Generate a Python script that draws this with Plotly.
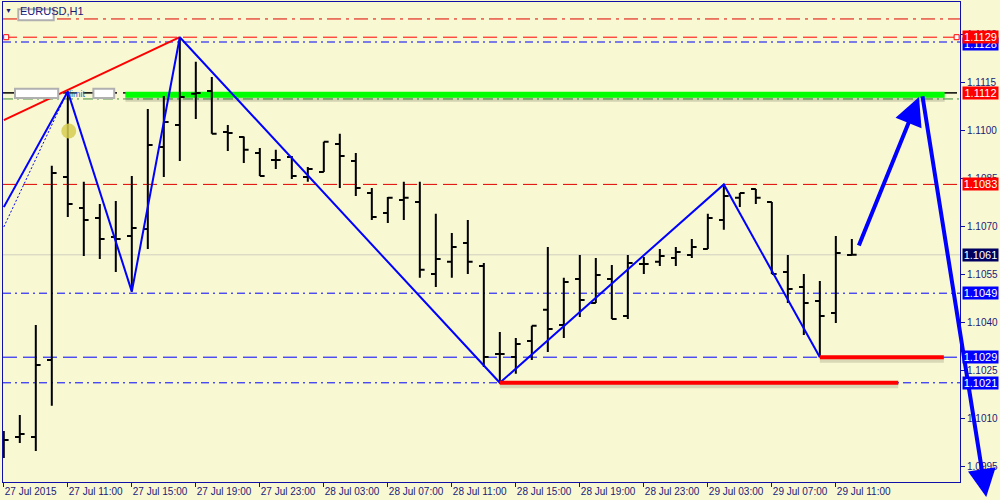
import plotly.graph_objects as go

# EURUSD H1, hourly bars from 27 Jul 2015 07:00
BAR_INDEX = list(range(54))
OPEN = [1.10040, 1.10041, 1.10041, 1.10281, 1.10853, 1.10756, 1.10725, 1.10666, 1.10669, 1.10691,
        1.10947, 1.11016, 1.11113, 1.11122, 1.10994, 1.10978, 1.10928, 1.10906, 1.10916, 1.10853,
        1.10869, 1.10956, 1.10903, 1.10803, 1.10741, 1.10781, 1.10775, 1.10550, 1.10588, 1.10647,
        1.10575, 1.10300, 1.10291, 1.10341, 1.10438, 1.10391, 1.10534, 1.10459, 1.10534, 1.10419,
        1.10581, 1.10588, 1.10600, 1.10609, 1.10628, 1.10719, 1.10788, 1.10816, 1.10775, 1.10556,
        1.10509, 1.10466, 1.10428, 1.10609]
HIGH = [1.10059, 1.10109, 1.10391, 1.10888, 1.11120, 1.10838, 1.10769, 1.10778, 1.10856, 1.11066,
        1.11106, 1.11290, 1.11213, 1.11166, 1.11016, 1.10980, 1.10944, 1.10938, 1.10919, 1.10884,
        1.10963, 1.10988, 1.10928, 1.10819, 1.10791, 1.10838, 1.10838, 1.10738, 1.10678, 1.10719,
        1.10584, 1.10369, 1.10350, 1.10388, 1.10634, 1.10538, 1.10609, 1.10600, 1.10578, 1.10609,
        1.10603, 1.10628, 1.10634, 1.10659, 1.10738, 1.10830, 1.10803, 1.10816, 1.10775, 1.10609,
        1.10550, 1.10528, 1.10669, 1.10659]
LOW = [1.09975, 1.10022, 1.09997, 1.10138, 1.10728, 1.10606, 1.10597, 1.10556, 1.10495, 1.10628,
       1.10853, 1.10903, 1.11034, 1.10988, 1.10934, 1.10897, 1.10856, 1.10878, 1.10847, 1.10838,
       1.10869, 1.10819, 1.10794, 1.10719, 1.10709, 1.10719, 1.10538, 1.10509, 1.10538, 1.10550,
       1.10259, 1.10210, 1.10238, 1.10281, 1.10306, 1.10350, 1.10416, 1.10459, 1.10409, 1.10409,
       1.10550, 1.10575, 1.10575, 1.10600, 1.10628, 1.10688, 1.10759, 1.10769, 1.10550, 1.10459,
       1.10359, 1.10290, 1.10397, 1.10609]
CLOSE = [1.10031, 1.10050, 1.10266, 1.10866, 1.10769, 1.10719, 1.10659, 1.10659, 1.10694, 1.10953,
         1.11025, 1.11103, 1.11116, 1.10988, 1.10991, 1.10938, 1.10856, 1.10906, 1.10856, 1.10878,
         1.10963, 1.10919, 1.10819, 1.10728, 1.10788, 1.10788, 1.10563, 1.10597, 1.10634, 1.10588,
         1.10291, 1.10300, 1.10331, 1.10388, 1.10378, 1.10525, 1.10469, 1.10547, 1.10409, 1.10584,
         1.10581, 1.10606, 1.10619, 1.10634, 1.10725, 1.10794, 1.10803, 1.10788, 1.10550, 1.10503,
         1.10459, 1.10419, 1.10616, 1.10610]

TICK_BARS = [0, 4, 8, 12, 16, 20, 24, 28, 32, 36, 40, 44, 48, 52]
TICK_TEXT = ["27 Jul 2015", "27 Jul 11:00", "27 Jul 15:00", "27 Jul 19:00", "27 Jul 23:00",
             "28 Jul 03:00", "28 Jul 07:00", "28 Jul 11:00", "28 Jul 15:00", "28 Jul 19:00",
             "28 Jul 23:00", "29 Jul 03:00", "29 Jul 07:00", "29 Jul 11:00"]
PRICE_TICKS = [1.0995, 1.1010, 1.1025, 1.1040, 1.1055, 1.1070, 1.1085, 1.1100, 1.1115, 1.1130]

# drawn objects
ZIGZAG_X = [0, 4, 8, 11, 31, 45, 51]
ZIGZAG_Y = [1.10759, 1.11120, 1.10495, 1.11290, 1.10210, 1.10830, 1.10290]
DOTTED_X = [0, 3.7]
DOTTED_Y = [1.10697, 1.11090]
TREND_X = [0, 11]
TREND_Y = [1.11031, 1.11290]
SUPPORT_X = [[31, 55.9], [51, 58.75]]
SUPPORT_Y = [1.10210, 1.10290]
ARROW_TAIL = [(53.4, 1.10634), (57.4, 1.11110)]
ARROW_HEAD = [(57.2, 1.11103), (61.4, 1.09853)]

LEVELS = [1.11347, 1.11290, 1.11275, 1.11116, 1.11097, 1.10830, 1.10610, 1.10490, 1.10290, 1.10210]
PRICE_LABELS = [("1.1128", 1.11270), ("1.1129", 1.11290), ("1.1112", 1.11116), ("1.1083", 1.10830),
                ("1.1061", 1.10610), ("1.1049", 1.10490), ("1.1029", 1.10290), ("1.1021", 1.10210)]

NAVY = "#1a1a78"
AXIS = "#1010a8"
FONT = "Liberation Sans"

level_style = {
    1.11347: ("#e00000", "14px,5px,3px,5px"),
    1.11290: ("#ff0000", "14px,6px"),
    1.11275: ("#0000ff", "8px,4px,2px,4px"),
    1.11116: ("#000000", "14px,6px"),
    1.11097: ("#3c8c3c", "10px,4px,2px,4px"),
    1.10830: ("#e00000", "14px,6px"),
    1.10610: ("#d0d0c0", "solid"),
    1.10490: ("#0000ff", "8px,4px,2px,4px"),
    1.10290: ("#0000ff", "14px,6px"),
    1.10210: ("#0000ff", "8px,4px,2px,4px"),
}
label_bg = {"1.1128": "#0000ff", "1.1129": "#ff0000", "1.1112": "#ff0000", "1.1083": "#ff0000",
            "1.1061": "#000060", "1.1049": "#0000ff", "1.1029": "#0000ff", "1.1021": "#0000ff"}

fig = go.Figure()

for lv in LEVELS:
    color, dash = level_style[lv]
    fig.add_shape(type="line", xref="paper", x0=0, x1=1, yref="y", y0=lv, y1=lv,
                  line=dict(color=color, width=1, dash=dash), layer="below")

# green band of the sell limit
fig.add_shape(type="line", xref="x", x0=7.6, x1=58.8, yref="y", y0=1.11102, y1=1.11102,
              line=dict(color="rgba(0,0,0,0.15)", width=9), layer="below")
fig.add_shape(type="line", xref="x", x0=7.6, x1=58.8, yref="y", y0=1.11110, y1=1.11110,
              line=dict(color="#00ff00", width=6), layer="below")
fig.add_shape(type="line", xref="paper", x0=0, x1=1, yref="y", y0=1.11116, y1=1.11116,
              line=dict(color="#000000", width=1, dash="14px,6px"), layer="below")

fig.add_trace(go.Ohlc(
    x=BAR_INDEX, open=OPEN, high=HIGH, low=LOW, close=CLOSE,
    increasing=dict(line=dict(color="black", width=2)),
    decreasing=dict(line=dict(color="black", width=2)),
    tickwidth=0.3, showlegend=False, hoverinfo="skip",
))

fig.add_trace(go.Scatter(x=DOTTED_X, y=DOTTED_Y, mode="lines",
                         line=dict(color="#0000ff", width=1, dash="2px,2px"), showlegend=False))
fig.add_trace(go.Scatter(x=TREND_X, y=TREND_Y, mode="lines",
                         line=dict(color="#ff0000", width=2), showlegend=False))
fig.add_trace(go.Scatter(x=ZIGZAG_X, y=ZIGZAG_Y, mode="lines",
                         line=dict(color="#0000ff", width=2), showlegend=False))
for xs, yv in zip(SUPPORT_X, SUPPORT_Y):
    fig.add_trace(go.Scatter(x=xs, y=[yv - 0.00008, yv - 0.00008], mode="lines",
                             line=dict(color="rgba(0,0,0,0.13)", width=6), showlegend=False))
    fig.add_trace(go.Scatter(x=xs, y=[yv, yv], mode="lines",
                             line=dict(color="#ff0000", width=4), showlegend=False))

fig.add_trace(go.Scatter(x=[0.15, 59.55], y=[1.11290, 1.11290], mode="markers",
                         marker=dict(symbol="square", size=5, color="white",
                                     line=dict(color="#ff0000", width=1)),
                         showlegend=False, cliponaxis=False))
fig.add_trace(go.Scatter(x=[4.06], y=[1.10997], mode="markers",
                         marker=dict(size=15, color="rgba(214,204,80,0.85)"), showlegend=False))

annotations = []
for (tx, ty), (hx, hy) in zip(ARROW_TAIL, ARROW_HEAD):
    annotations.append(dict(x=hx, y=hy, ax=tx, ay=ty, xref="x", yref="y", axref="x", ayref="y",
                            showarrow=True, arrowhead=2, arrowsize=1.4, arrowwidth=4,
                            arrowcolor="#0000ff", text=""))

for txt, yv in PRICE_LABELS:
    annotations.append(dict(x=1.002, y=yv, xref="paper", yref="y", xanchor="left", yanchor="middle",
                            text=txt, showarrow=False, bgcolor=label_bg[txt], width=35, align="center",
                            borderpad=0, font=dict(family=FONT, size=11, color="white")))

annotations.append(dict(x=0.016, y=0.982, xref="paper", yref="paper", xanchor="left",
                        yanchor="middle", text="EURUSD,H1", showarrow=False,
                        font=dict(family=FONT, size=11, color=NAVY)))
annotations.append(dict(x=0.006, y=0.982, xref="paper", yref="paper", xanchor="center",
                        yanchor="middle", text="▼", showarrow=False,
                        font=dict(family=FONT, size=7, color=NAVY)))
annotations.append(dict(x=4.6, y=1.11114, xref="x", yref="y", xanchor="center",
                        yanchor="middle", text="limit", showarrow=False,
                        font=dict(family=FONT, size=9, color="#3060d0")))
fig.update_layout(annotations=annotations)

# blurred label boxes
for x0, x1, y0, y1, xr, yr in [(0.016, 0.053, 0.962, 0.985, "paper", "paper"),
                               (0.7, 3.4, 1.11100, 1.11129, "x", "y"),
                               (5.6, 6.9, 1.11100, 1.11129, "x", "y")]:
    fig.add_shape(type="rect", xref=xr, yref=yr, x0=x0, x1=x1, y0=y0, y1=y1,
                  fillcolor="white", line=dict(color="#b0b0b0", width=2), layer="above")

fig.update_xaxes(
    range=[-0.05, 59.76], tickvals=TICK_BARS, ticktext=TICK_TEXT,
    ticks="outside", ticklen=4, tickcolor=AXIS, ticklabelposition="outside right",
    showgrid=False, zeroline=False, showline=True, linecolor=AXIS, mirror=True,
    rangeslider=dict(visible=False), tickfont=dict(family=FONT, size=10, color=NAVY),
)
fig.update_yaxes(
    range=[1.0990, 1.1140], side="right", tickvals=PRICE_TICKS,
    ticktext=[f"{p:.4f}" for p in PRICE_TICKS],
    ticks="outside", ticklen=4, tickcolor=AXIS,
    showgrid=False, zeroline=False, showline=True, linecolor=AXIS, mirror=True,
    tickfont=dict(family=FONT, size=10, color=NAVY),
)
fig.update_layout(
    width=1000, height=500,
    margin=dict(l=3, r=40, t=2, b=18),
    plot_bgcolor="#f8f8d2", paper_bgcolor="#f8f8d2",
    showlegend=False, hovermode=False,
)

fig.write_html("out.html", config={"displayModeBar": False},
               post_script="document.body.style.margin='0';")
